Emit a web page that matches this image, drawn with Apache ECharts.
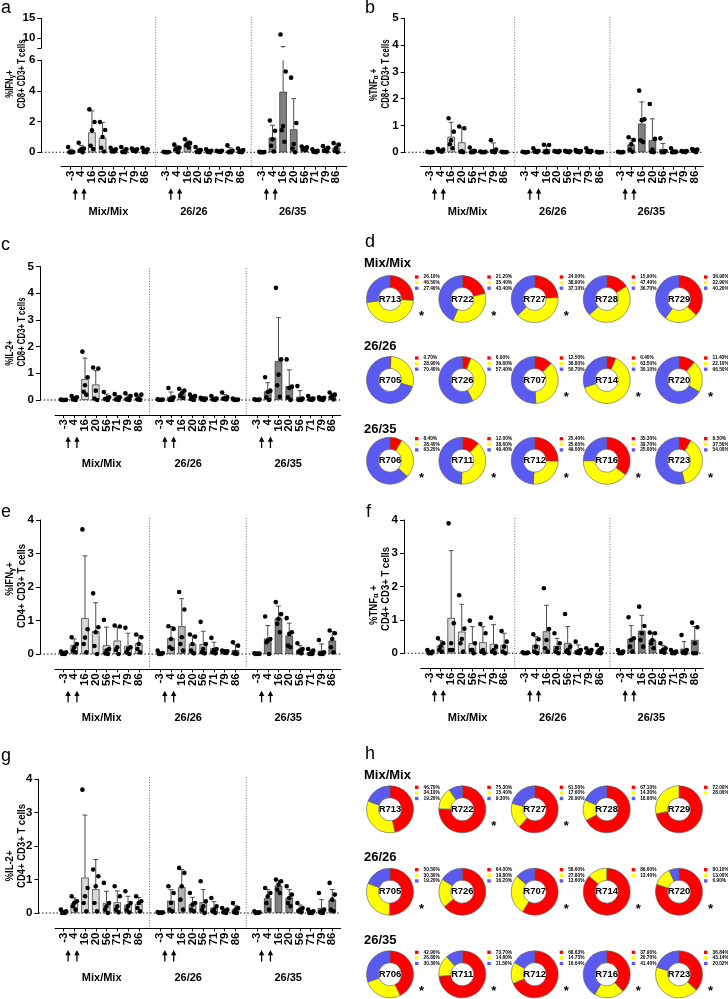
<!DOCTYPE html>
<html><head><meta charset="utf-8">
<script src="https://cdn.jsdelivr.net/npm/echarts@6/dist/echarts.min.js"></script>
<style>html,body{margin:0;padding:0;background:#fff}#c{width:728px;height:999px}</style>
</head><body><div id="c"></div><script>
// ---------------- DATA ----------------
const days = ['-3','4','16','20','56','71','79','86'];
const dayNums = [-3,4,16,20,56,71,79,86];
const groups = ['Mix/Mix','26/26','26/35'];
const immunizationDays = [0, 7];

// panel a  %IFNg+ CD8
const aMean = [0.07,0.23,1.3,0.95,0.14,0.12,0.15,0.12, 0.01,0.25,0.55,0.12,0.08,0.07,0.12,0.09, 0.01,0.96,3.95,1.5,0.26,0.08,0.2,0.3];
const aTop  = [0.2,0.45,2.7,1.95,0.25,0.27,0.23,0.25, 0.03,0.43,0.75,0.26,0.16,0.1,0.3,0.2, 0.02,1.76,7.9,3.5,0.35,0.16,0.34,0.55];
const aPts = [
[0.35,0.02,0.01,0,0],[0.62,0.25,0.2,0.1,0],[2.8,1.98,1.43,0.43,0.22],[1.98,1.45,1.0,0.3,0.05],[0.3,0.2,0.1,0.05,0.05],[0.35,0.2,0.05,0.02,0],[0.25,0.2,0.15,0.1,0.05],[0.3,0.2,0.1,0.02,0],
[0.04,0.02,0.01,0,0],[0.5,0.3,0.25,0.2,0],[0.85,0.6,0.55,0.45,0.3],[0.35,0.15,0.1,0.02,0],[0.2,0.1,0.05,0.03,0],[0.1,0.1,0.05,0.05,0.03],[0.45,0.1,0.05,0,0],[0.25,0.15,0.05,0.02,0],
[0.03,0.02,0.01,0,0],[2.07,1.41,0.85,0.43,0.05],[10.9,5.27,1.72,1.44,0.69],[4.87,1.91,0.54,0.25,0],[0.38,0.32,0.25,0.2,0.15],[0.2,0.1,0.05,0.03,0],[0.4,0.3,0.15,0.1,0.05],[0.6,0.5,0.3,0.1,0]];

// panel b  %TNFa+ CD8
const bMean = [0.01,0.07,0.58,0.37,0.05,0.01,0.12,0.01, 0.01,0.05,0.12,0.03,0.03,0.04,0.05,0.01, 0.01,0.29,1.07,0.45,0.12,0.04,0.03,0.07];
const bTop  = [0.02,0.11,1.12,0.92,0.12,0.02,0.35,0.02, 0.02,0.11,0.27,0.05,0.05,0.07,0.11,0.02, 0.02,0.52,1.88,1.25,0.33,0.1,0.05,0.11];
const bPts = [
[0.02,0.01,0,0,0],[0.12,0.1,0.05,0.05,0.02],[1.27,0.77,0.45,0.3,0.15],[0.96,0.9,0.05,0.02,0],[0.18,0.05,0.02,0,0],[0.03,0.02,0.01,0,0],[0.45,0.1,0.05,0.02,0],[0.02,0.01,0.01,0,0],
[0.02,0.01,0,0,0],[0.15,0.05,0.03,0.02,0],[0.28,0.27,0.05,0,0],[0.05,0.05,0.03,0.02,0],[0.06,0.04,0.03,0.02,0],[0.08,0.05,0.04,0.02,0],[0.15,0.05,0.03,0.02,0],[0.02,0.01,0,0,0],
[0.02,0.01,0,0,0],[0.56,0.46,0.3,0.1,0.02],[2.3,1.23,1.2,0.45,0.38],[1.8,0.5,0.1,0.02,0],[0.52,0.05,0.02,0,0],[0.15,0.02,0.01,0,0],[0.05,0.05,0.03,0.02,0],[0.12,0.1,0.08,0.05,0]];

// panel c  %IL-2+ CD8
const cMean = [0.01,0.06,0.78,0.58,0.1,0.08,0.09,0.09, 0.01,0.12,0.25,0.1,0.04,0.05,0.1,0.02, 0.01,0.32,1.45,0.52,0.12,0.05,0.05,0.15];
const cTop  = [0.02,0.12,1.57,1.1,0.22,0.17,0.19,0.18, 0.02,0.3,0.39,0.18,0.07,0.11,0.2,0.04, 0.02,0.65,3.08,1.13,0.35,0.11,0.09,0.25];
const cPts = [
[0.02,0.01,0,0,0],[0.15,0.1,0.05,0.02,0],[1.81,0.85,0.55,0.31,0.2],[1.22,1.18,0.35,0.05,0],[0.3,0.1,0.05,0.03,0],[0.22,0.1,0.05,0.02,0],[0.25,0.15,0.05,0.02,0],[0.2,0.2,0.05,0.02,0],
[0.03,0.02,0.01,0,0],[0.45,0.1,0.05,0,0],[0.42,0.35,0.25,0.15,0.08],[0.2,0.15,0.1,0.03,0],[0.08,0.05,0.05,0.02,0],[0.15,0.05,0.03,0.02,0],[0.28,0.1,0.05,0.05,0.02],[0.05,0.02,0.02,0,0],
[0.03,0.02,0.01,0,0],[0.85,0.35,0.3,0.1,0],[4.2,1.52,0.95,0.55,0.12],[1.52,0.5,0.45,0.1,0],[0.52,0.05,0.02,0,0],[0.15,0.05,0.03,0.02,0],[0.1,0.08,0.05,0.02,0],[0.28,0.2,0.15,0.1,0.02]];

// panel e  %IFNg+ CD4
const eMean = [0.03,0.27,1.07,0.68,0.26,0.4,0.24,0.32, 0.03,0.47,0.83,0.3,0.3,0.17,0.07,0.12, 0.01,0.46,1.07,0.55,0.13,0.05,0.1,0.4];
const eTop  = [0.06,0.45,2.93,1.53,0.8,0.8,0.62,0.55, 0.07,0.82,1.65,0.55,0.68,0.35,0.1,0.28, 0.02,0.85,1.43,0.92,0.25,0.12,0.3,0.67];
const ePts = [
[0.07,0.05,0.03,0,0],[0.5,0.3,0.2,0.1,0.05],[3.72,0.74,0.49,0.3,0.05],[1.81,0.8,0.65,0.24,0],[1.02,0.15,0.1,0.02,0],[0.85,0.82,0.2,0.12,0],[0.78,0.2,0.15,0.05,0],[0.58,0.5,0.3,0.15,0.05],
[0.1,0.03,0,0,0],[0.83,0.75,0.45,0.2,0.15],[1.85,1.33,0.5,0.3,0.1],[0.58,0.52,0.3,0.1,0.02],[0.96,0.3,0.15,0.05,0.02],[0.48,0.15,0.12,0.05,0.02],[0.1,0.08,0.08,0.05,0.03],[0.35,0.25,0.05,0.02,0],
[0.02,0.01,0.01,0,0],[1.12,0.45,0.4,0.35,0],[1.55,1.19,1.05,0.9,0.65],[1.07,0.65,0.6,0.25,0.2],[0.32,0.15,0.1,0.05,0.02],[0.15,0.1,0.02,0,0],[0.42,0.05,0.02,0,0],[0.7,0.62,0.45,0.2,0.05]];

// panel f  %TNFa+ CD4
const fMean = [0.03,0.22,1.06,0.65,0.3,0.33,0.28,0.25, 0.01,0.25,0.66,0.22,0.31,0.1,0.06,0.1, 0.03,0.44,0.68,0.41,0.12,0.03,0.14,0.4];
const fTop  = [0.07,0.38,3.08,1.47,0.8,0.8,0.86,0.6, 0.02,0.5,1.44,0.45,0.8,0.25,0.12,0.2, 0.07,0.83,1.14,0.62,0.24,0.07,0.35,0.8];
const fPts = [
[0.1,0.05,0.02,0,0],[0.45,0.3,0.2,0.1,0.05],[3.9,0.9,0.3,0.1,0.1],[1.74,0.74,0.43,0.3,0.05],[0.98,0.3,0.1,0.1,0],[0.88,0.6,0.1,0.05,0],[1.07,0.2,0.1,0.05,0],[0.67,0.35,0.2,0.05,0],
[0.03,0.02,0.01,0,0],[0.57,0.42,0.2,0.05,0],[1.95,0.73,0.4,0.15,0.05],[0.6,0.3,0.15,0.05,0],[1.18,0.2,0.1,0.05,0],[0.35,0.1,0.05,0.02,0],[0.15,0.1,0.05,0.02,0],[0.25,0.15,0.1,0.02,0],
[0.1,0.05,0.02,0,0],[1.08,0.45,0.4,0.2,0.05],[1.4,0.82,0.6,0.4,0.2],[0.62,0.6,0.4,0.3,0.15],[0.3,0.15,0.1,0.05,0.02],[0.1,0.05,0.02,0,0],[0.55,0.1,0.05,0.02,0],[0.92,0.78,0.3,0,0]];

// panel g  %IL-2+ CD4
const gMean = [0.03,0.29,1.06,0.71,0.3,0.32,0.25,0.27, 0.01,0.37,0.77,0.26,0.32,0.16,0.06,0.11, 0.02,0.45,0.82,0.46,0.12,0.03,0.15,0.4];
const gTop  = [0.07,0.45,2.93,1.6,0.65,0.66,0.5,0.46, 0.02,0.7,1.3,0.47,0.7,0.34,0.12,0.22, 0.04,0.7,0.97,0.7,0.24,0.07,0.4,0.7];
const gPts = [
[0.1,0.05,0.02,0,0],[0.5,0.35,0.3,0.2,0.1],[3.69,0.75,0.5,0.3,0.05],[1.3,1.1,0.8,0.3,0.05],[0.9,0.3,0.2,0.1,0],[0.8,0.5,0.2,0.1,0.02],[0.65,0.3,0.2,0.1,0.02],[0.5,0.35,0.3,0.15,0.05],
[0.03,0.02,0.01,0,0],[0.8,0.6,0.3,0.1,0.05],[1.35,1.2,0.8,0.4,0.1],[0.6,0.3,0.25,0.1,0.05],[0.95,0.35,0.2,0.1,0],[0.45,0.2,0.1,0.05,0],[0.15,0.1,0.05,0.02,0],[0.3,0.15,0.1,0.02,0],
[0.05,0.02,0.01,0,0],[0.75,0.6,0.5,0.3,0.1],[1.0,0.95,0.85,0.7,0.6],[0.8,0.55,0.45,0.3,0.2],[0.3,0.15,0.1,0.05,0.02],[0.1,0.05,0.02,0,0],[0.6,0.1,0.05,0.02,0],[0.9,0.55,0.4,0.1,0.05]];

// donuts (percent red / yellow / blue)
const donutRows = ['Mix/Mix','26/26','26/35'];
const donutIds = [['R713','R722','R727','R728','R729'],['R705','R726','R707','R714','R720'],['R706','R711','R712','R716','R723']];
const dPct = [
 [[26.10,46.50,27.40],[21.20,35.40,43.40],[24.00,38.90,37.10],[15.90,47.40,36.70],[36.90,22.90,40.20]],
 [[0.70,28.90,70.40],[6.00,36.60,57.40],[12.50,36.80,50.70],[6.40,63.50,30.10],[11.40,22.10,66.50]],
 [[8.40,28.40,63.20],[12.00,38.60,49.40],[25.40,25.60,49.00],[35.30,39.70,25.00],[8.50,37.50,54.00]]];
const dStars = [[1,1,1,0,0],[0,0,1,1,1],[1,1,1,1,1]];
const hPct = [
 [[46.70,34.10,19.20],[75.30,15.40,9.30],[61.50,17.60,20.90],[67.10,14.30,18.60],[72.00,28.00]],
 [[50.50,30.30,19.20],[64.00,19.80,16.20],[58.60,27.80,13.60],[86.60,13.40],[80.10,13.00,6.90]],
 [[42.90,26.80,30.30],[73.70,14.80,11.50],[68.63,14.73,16.64],[37.90,20.70,41.40],[36.84,43.14,20.02]]];
const hStars = [[0,1,1,0,0],[1,0,1,1,1],[1,1,1,1,1]];

// ---------------- STYLE / LAYOUT ----------------
const FONT = 'Arial, "Liberation Sans", Helvetica, sans-serif';
const GROUP_FILL = ['#d9d9d9','#b3b3b3','#808080'];
const ERR = '#4d4d4d';
const DONUT_COLORS = ['#ff0000','#ffff00','#5a5af0'];
const JIT = [-2.6, 2.6, 0, -1.3, 1.3];
const GROUP_LABEL_POS = [3.55, 11.6, 20.9];
const POS = [];
for (let g = 0; g < 3; g++) for (let i = 0; i < 8; i++) POS.push(g * 9 + i);

const grids = [], xAxes = [], yAxes = [], series = [], legends = [], graphics = [];

function dayToPos(g, d) {
  for (let i = 0; i < dayNums.length - 1; i++) {
    if (d >= dayNums[i] && d < dayNums[i + 1]) return g * 9 + i + (d - dayNums[i]) / (dayNums[i + 1] - dayNums[i]);
  }
  return g * 9;
}

function buildPanel(P) {
  const left = P.p0 + P.w * P.pmin;
  const width = P.w * (P.pmax - P.pmin);
  const yOff = left - P.yAxisX;
  P.segs.forEach((s, si) => {
    const gi = grids.length;
    const main = si === 0;
    grids.push({left: left, width: width, top: s.top, height: s.bottom - s.top, outerBoundsMode: 'none', containLabel: false});
    xAxes.push({type: 'value', gridIndex: gi, min: P.pmin, max: P.pmax, show: main,
      offset: main ? P.xAxisY - s.bottom : 0,
      axisLine: {show: true, onZero: false, lineStyle: {color: '#000', width: 1}},
      axisTick: {show: true, customValues: POS, length: 3, lineStyle: {color: '#000'}},
      axisLabel: {show: false},
      splitLine: {show: false}});
    const ya = {type: 'value', gridIndex: gi, min: s.min, max: s.max, offset: yOff,
      axisLine: {show: true, onZero: false, lineStyle: {color: '#000', width: 1}},
      axisTick: {show: true, length: 4, lineStyle: {color: '#000'}},
      axisLabel: {fontSize: 11.5, fontWeight: 'bold', fontFamily: FONT, color: '#000', margin: 6, showMinLabel: true, showMaxLabel: true},
      splitLine: {show: false}};
    if (s.interval) ya.interval = s.interval;
    if (s.labels) { ya.axisLabel.customValues = s.labels; ya.axisTick.customValues = s.ticks; }
    yAxes.push(ya);

    if (main) {
      // dotted zero line
      series.push({type: 'custom', xAxisIndex: gi, yAxisIndex: gi, z: 1, silent: true, clip: false, data: [[0, 0]],
        renderItem: (params, api) => {
          const y0 = api.coord([0, 0])[1];
          const xl = api.coord([P.pmin, 0])[0] - yOff, xr = api.coord([P.pmax, 0])[0];
          return {type: 'line', shape: {x1: xl, y1: y0, x2: xr, y2: y0}, style: {stroke: '#000', lineWidth: 1.1, lineDash: [1.4, 2.2]}};
        }});
      // bars
      series.push({type: 'bar', xAxisIndex: gi, yAxisIndex: gi, barWidth: 7.5, z: 2, silent: true,
        data: POS.map((p, k) => ({value: [p, P.mean[k]], itemStyle: {color: GROUP_FILL[Math.floor(k / 8)], borderColor: '#2a2a2a', borderWidth: 0.7}}))});
      // overlay: separators, day tick labels, arrows, group labels
      series.push({type: 'custom', xAxisIndex: gi, yAxisIndex: gi, z: 6, silent: true, clip: false, data: [[0, 0]],
        renderItem: (params, api) => {
          const ch = [];
          const y0 = api.coord([0, 0])[1];
          const axY = y0 + (P.xAxisY - s.bottom);
          [8, 17].forEach(sp => {
            const x = api.coord([sp, 0])[0];
            ch.push({type: 'line', shape: {x1: x, y1: P.sepTop, x2: x, y2: axY}, style: {stroke: '#666', lineWidth: 0.9, lineDash: [1, 1.6]}});
          });
          POS.forEach((p, k) => {
            const x = api.coord([p, 0])[0];
            ch.push({type: 'text', x: x, y: axY + 4, rotation: Math.PI / 2,
              style: {text: days[k % 8], fill: '#000', fontSize: 11.5, fontWeight: 'bold', fontFamily: FONT, align: 'right', verticalAlign: 'middle'}});
          });
          for (let g = 0; g < 3; g++) {
            immunizationDays.forEach(d => {
              const x = api.coord([dayToPos(g, d), 0])[0];
              const yt = axY + 21.5, ye = axY + 33;
              ch.push({type: 'polygon', shape: {points: [[x, yt], [x - 2.7, yt + 5.2], [x + 2.7, yt + 5.2]]}, style: {fill: '#000'}});
              ch.push({type: 'line', shape: {x1: x, y1: yt + 4, x2: x, y2: ye}, style: {stroke: '#000', lineWidth: 1.3}});
            });
            const gx = api.coord([GROUP_LABEL_POS[g], 0])[0];
            ch.push({type: 'text', x: gx, y: axY + P.grpOff, style: {text: groups[g], fill: '#000', fontSize: 11, fontWeight: 'bold', fontFamily: FONT, align: 'center', verticalAlign: 'middle'}});
          }
          return {type: 'group', children: ch};
        }});
    }
    // error bars (upper SD)
    series.push({type: 'custom', xAxisIndex: gi, yAxisIndex: gi, z: 3, silent: true, clip: false,
      data: POS.map((p, k) => [p, P.mean[k], P.top[k]]),
      renderItem: (params, api) => {
        const x = api.value(0), m = api.value(1), t = api.value(2);
        const lo = Math.max(m, s.min), hi = Math.min(t, s.max);
        if (hi <= lo) return null;
        const a = api.coord([x, lo]), b = api.coord([x, hi]);
        const ch = [{type: 'line', shape: {x1: a[0], y1: a[1], x2: b[0], y2: b[1]}, style: {stroke: ERR, lineWidth: 1}}];
        if (t <= s.max) ch.push({type: 'line', shape: {x1: b[0] - 2.4, y1: b[1], x2: b[0] + 2.4, y2: b[1]}, style: {stroke: ERR, lineWidth: 1}});
        return {type: 'group', children: ch};
      }});
    // individual points
    const dots = [];
    POS.forEach((p, k) => P.pts[k].forEach((v, j) => { if (v >= s.min && v <= s.max) dots.push([p, v, j]); }));
    series.push({type: 'custom', xAxisIndex: gi, yAxisIndex: gi, z: 4, silent: true, clip: false, data: dots,
      renderItem: (params, api) => {
        const c = api.coord([api.value(0), api.value(1)]);
        return {type: 'circle', shape: {cx: c[0] + JIT[api.value(2)], cy: c[1], r: 2.3}, style: {fill: '#000'}};
      }});
  });
  // y titles
  P.titles.forEach(t => {
    graphics.push({type: 'text', x: t.x, y: t.y, rotation: Math.PI / 2, scaleX: P.tScale, scaleY: 1, silent: true,
      style: {text: t.text, fill: '#000', fontSize: P.tSize, fontWeight: 'bold', fontFamily: FONT, align: 'center', verticalAlign: 'middle',
        rich: {g: {fontSize: P.tSize * 0.8, fontWeight: 'bold', fontFamily: FONT, fill: '#000', padding: [3, 0, 0, 0]}}}});
  });
}

const hor = {
  a: {p0: 70.7, w: 10.62, pmin: -0.91, pmax: 26.0},
  b: {p0: 430, w: 10.59, pmin: -0.88, pmax: 25.8},
  c: {p0: 63.5, w: 10.75, pmin: -0.79, pmax: 25.79}
};
const panels = [
  Object.assign({}, hor.a, {mean: aMean, top: aTop, pts: aPts, yAxisX: 41.3, xAxisY: 166.7, sepTop: 16.7, grpOff: 45,
    segs: [{top: 60.3, bottom: 152.3, min: 0, max: 6, interval: 2}, {top: 18.3, bottom: 48, min: 7.5, max: 15, labels: [10, 15], ticks: [7.5, 10, 15]}],
    tSize: 10, tScale: 0.78, titles: [{text: '%IFN{g|γ}+', x: 10, y: 84}, {text: 'CD8+ CD3+ T cells', x: 22, y: 74}]}),
  Object.assign({}, hor.b, {mean: bMean, top: bTop, pts: bPts, yAxisX: 404.7, xAxisY: 166.7, sepTop: 16.7, grpOff: 45,
    segs: [{top: 18.3, bottom: 152.3, min: 0, max: 5, interval: 1}],
    tSize: 10, tScale: 0.78, titles: [{text: '%TNF{g|α} +', x: 374, y: 85}, {text: 'CD8+ CD3+ T cells', x: 386, y: 74}]}),
  Object.assign({}, hor.c, {mean: cMean, top: cTop, pts: cPts, yAxisX: 40, xAxisY: 415, sepTop: 268, grpOff: 49,
    segs: [{top: 266.5, bottom: 400, min: 0, max: 5, interval: 1}],
    tSize: 10, tScale: 0.78, titles: [{text: '%IL-2+', x: 10, y: 353}, {text: 'CD8+ CD3+ T cells', x: 22, y: 332}]}),
  Object.assign({}, hor.c, {mean: eMean, top: eTop, pts: ePts, yAxisX: 40, xAxisY: 669.3, sepTop: 518, grpOff: 49,
    segs: [{top: 520, bottom: 654, min: 0, max: 4, interval: 1}],
    tSize: 10, tScale: 0.95, titles: [{text: '%IFN{g|γ}+', x: 10, y: 579}, {text: 'CD4+ CD3+ T cells', x: 22, y: 586}]}),
  Object.assign({}, hor.b, {mean: fMean, top: fTop, pts: fPts, yAxisX: 404, xAxisY: 668.5, sepTop: 518, grpOff: 49,
    segs: [{top: 520, bottom: 653.3, min: 0, max: 4, interval: 1}],
    tSize: 10, tScale: 0.95, titles: [{text: '%TNF{g|α} +', x: 374, y: 605}, {text: 'CD4+ CD3+ T cells', x: 386, y: 589}]}),
  Object.assign({}, hor.c, {mean: gMean, top: gTop, pts: gPts, yAxisX: 38.5, xAxisY: 928.5, sepTop: 777, grpOff: 49,
    segs: [{top: 779.3, bottom: 913, min: 0, max: 4, interval: 1}],
    tSize: 10, tScale: 0.95, titles: [{text: '%IL-2+', x: 10, y: 866}, {text: 'CD4+ CD3+ T cells', x: 22, y: 846}]})
];
panels.forEach(buildPanel);

// donut panels
const donutColX = [390, 462.3, 534.7, 606.7, 679];
function buildDonuts(pct, stars, rowY, labelY) {
  for (let r = 0; r < 3; r++) {
    graphics.push({type: 'text', x: 364, y: labelY[r], silent: true,
      style: {text: donutRows[r], fill: '#000', fontSize: 13, fontWeight: 'bold', fontFamily: FONT, align: 'left', verticalAlign: 'middle'}});
    for (let c = 0; c < 5; c++) {
      const id = donutIds[r][c], cx = donutColX[c], cy = rowY[r];
      const vals = pct[r][c];
      const names = vals.map(v => id + '|' + v.toFixed(2) + '%');
      series.push({type: 'pie', name: id, center: [cx, cy], radius: [11.5, 23.5], startAngle: 90, clockwise: true, silent: true,
        label: {show: false}, labelLine: {show: false}, emphasis: {disabled: true}, avoidLabelOverlap: false,
        itemStyle: {borderColor: '#5a5a5a', borderWidth: 0.6},
        data: vals.map((v, i) => ({name: names[i], value: v, itemStyle: {color: DONUT_COLORS[i]}}))});
      legends.push({show: true, data: names.map((n, i) => ({name: n, itemStyle: {color: DONUT_COLORS[i], borderWidth: 0}})),
        left: cx + 25, top: cy - 24.5, orient: 'vertical', icon: 'rect',
        itemWidth: 3.5, itemHeight: 3.3, itemGap: 0.6, padding: 0, selectedMode: false, inactiveColor: '#888',
        textStyle: {fontSize: 4.8, fontWeight: 'bold', fontFamily: FONT, color: '#000', lineHeight: 4},
        formatter: n => n.split('|')[1]});
      graphics.push({type: 'text', x: cx, y: cy, silent: true, z: 100,
        style: {text: id, fill: '#000', fontSize: 9.5, fontWeight: 'bold', fontFamily: FONT, align: 'center', verticalAlign: 'middle'}});
      if (stars[r][c]) graphics.push({type: 'text', x: cx + 31.5, y: cy + 17.5, silent: true,
        style: {text: '*', fill: '#000', fontSize: 13, fontWeight: 'bold', fontFamily: FONT, align: 'center', verticalAlign: 'middle'}});
    }
  }
}
buildDonuts(dPct, dStars, [299, 380, 460.7], [263, 346.7, 429.3]);
buildDonuts(hPct, hStars, [809.3, 891.7, 974.3], [775, 857.3, 940.7]);

// panel letters
[['a', 1, 8], ['b', 365, 8], ['c', 1, 245], ['d', 365, 242], ['e', 1, 512], ['f', 366, 512], ['g', 1, 756], ['h', 365, 754]].forEach(L => {
  graphics.push({type: 'text', x: L[1], y: L[2], silent: true,
    style: {text: L[0], fill: '#000', fontSize: 18, fontFamily: FONT, align: 'left', verticalAlign: 'middle'}});
});

const chart = echarts.init(document.getElementById('c'), null, {renderer: 'canvas', width: 728, height: 999});
chart.setOption({
  animation: false, backgroundColor: '#ffffff', textStyle: {fontFamily: FONT},
  grid: grids, xAxis: xAxes, yAxis: yAxes, series: series, legend: legends,
  graphic: {elements: graphics}
});
</script></body></html>
